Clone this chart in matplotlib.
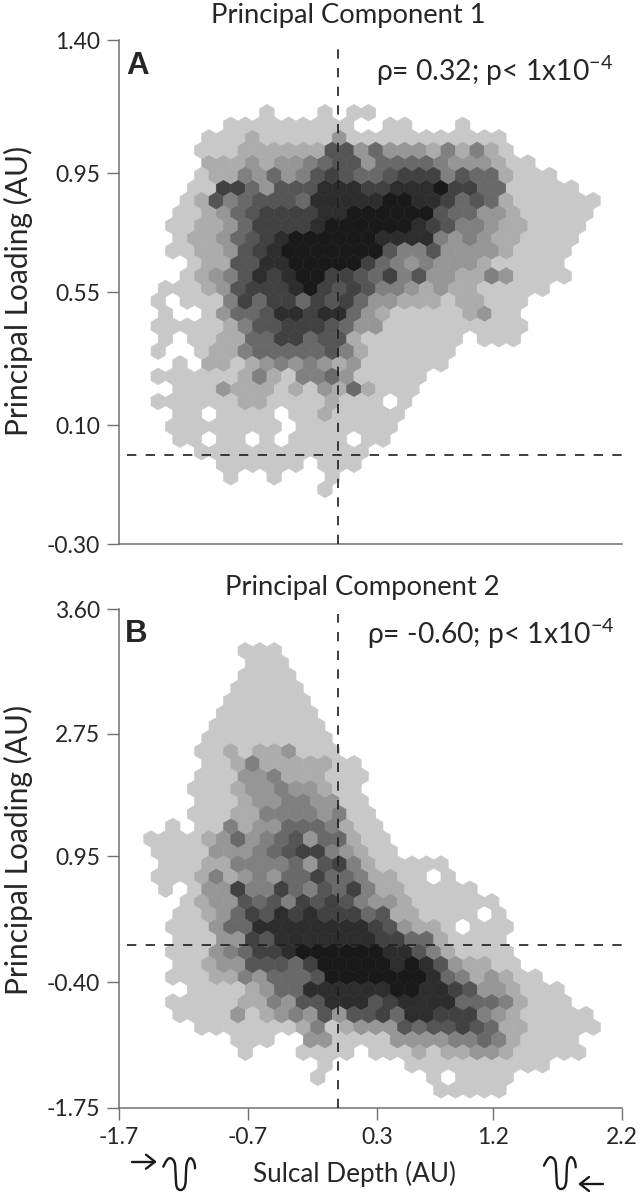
import numpy as np
import matplotlib
matplotlib.use("Agg")
import matplotlib.pyplot as plt
from matplotlib.colors import ListedColormap
from matplotlib.patches import PathPatch
from matplotlib.path import Path

plt.rcParams["font.family"] = ["Lato", "DejaVu Sans"]
plt.rcParams["mathtext.fontset"] = "custom"
plt.rcParams["mathtext.rm"] = "Lato"
plt.rcParams["mathtext.default"] = "regular"

# density class of every hexagon, one string per row from the top, blank = empty
levels_a = [
    "        1   1 11",
    "     111111111  11   1",
    "    111211111311111111111",
    "   1112222226635333242421",
    "    22232334566355554333211",
    "   1224353467655677746552111",
    "   117753666888778889775511111",
    "  12645666588888998875652111111",
    "  11235677778899999965533211111",
    " 11223577778999999876443221111",
    "  1223567899999988884343221111",
    " 1122367899999996446333321111",
    "   12266889999975434333211111",
    "  123468789977657463322431111",
    " 111236777897676443232211111",
    "1 111475775767533222122111",
    " 1  1355688788532111112311",
    "11111246677765331111111111",
    " 1 1122557756621111111 111",
    "1  122455555642111111",
    "  1 22123434323111111",
    "1111112421445311111",
    "  11132221213252111",
    "1111112211112111 1",
    "  11 1111 11211111",
    " 11111111 1111111",
    "  11 11 1 1111 11",
    "   111111111111",
    "     111111 111",
    "     1  1   1",
    "            1",
]
levels_b = [
    "       111",
    "       111",
    "       1111",
    "      11111",
    "      111111",
    "     1111111",
    "     11111111",
    "    111111111",
    "    1121223111",
    "    11242222211",
    "    111334222111",
    "   111233433211",
    "    111233443311",
    "   1112244443411",
    "  1 1142335554211",
    "11112353456355211",
    " 11113334567743211",
    " 11122444453674211111",
    " 1112423435575542211 1",
    " 1 13374475465742211111",
    "   1233656476764332111111",
    "  112357687877756221111 1",
    "  11135588888888763221 111",
    "  11133768888888775521111",
    "  111345778999999886421111",
    "  112336665799999898632211",
    "  11122435556999999985423211",
    "   11112355888888998876332111",
    "  1111122436688867888855542111",
    "  11113123436366758877743211111",
    "    1111111241233365667652211111",
    "      111  3311113333445421111",
    "       1   1111 111212233211111",
    "            1     1111111111",
    "            1       1 1111",
    "                    11111",
]
greys = ["#c8c8c8", "#acacac", "#969696", "#808080", "#696969",
         "#555555", "#414141", "#2d2d2d", "#191919"]

# first hexagon of the grid and grid pitch, data units
x0_a, y0_a, dy_a = -1.452, 1.1547, 0.04235
x0_b, y0_b, dy_b = -1.5078, 3.1514, 0.1345
dx = 0.1124

xticks = [-1.7, -0.7, 0.3, 1.2, 2.2]
yticks_a = [1.40, 0.95, 0.55, 0.10, -0.30]
ylabels_a = ["1.40", "0.95", "0.55", "0.10", "-0.30"]
# the 2.75 label sits where about 2.26 would be on the linear axis
yticks_b = [3.60, 2.26, 0.95, -0.40, -1.75]
ylabels_b = ["3.60", "2.75", "0.95", "-0.40", "-1.75"]

W, H = 644, 1199
TXT = "#262626"
AXC = "#707070"
cmap = ListedColormap(greys)


def make_ax(top, bottom):
    ax = fig.add_axes([119 / W, 1 - bottom / H, 503 / W, (bottom - top) / H])
    for s in ["top", "right"]:
        ax.spines[s].set_visible(False)
    for s in ["left", "bottom"]:
        ax.spines[s].set_color(AXC)
        ax.spines[s].set_linewidth(1.1)
    ax.patch.set_alpha(0)
    return ax


def draw_hexes(ax, rows, x0, y0, dy, last_even):
    xs, ys, cs = [], [], []
    for r, row in enumerate(rows):
        for j, ch in enumerate(row):
            if ch != " ":
                xs.append(x0 + dx * (j + 0.5 * (r % 2)))
                ys.append(y0 - dy * r)
                cs.append(int(ch))
    ymin = y0 - dy * last_even
    ax.hexbin(xs, ys, C=cs, reduce_C_function=np.max,
              gridsize=(32, last_even // 2),
              extent=(x0, x0 + 32 * dx, ymin, y0),
              cmap=cmap, vmin=0.5, vmax=9.5, linewidths=0.4, zorder=1)


def dashes(ax, top_frac):
    ax.axvline(0, ymax=top_frac, color="#1e1e1e", lw=1.2, ls=(0, (5.6, 5.6)), zorder=3)
    ax.axhline(0, xmin=0.016, color="#1e1e1e", lw=1.2, ls=(0, (5.6, 5.6)), zorder=3)


def ftext(x, y, s, **kw):
    fig.text(x / W, 1 - y / H, s, va="center", ha=kw.pop("ha", "center"), color=TXT, **kw)


def squiggle(dx_px, dy_px):
    # sulcus outline in pixels
    verts = [(163.3, 1166.7),
             (166, 1160.7), (168.3, 1157.3), (170.7, 1158.3),
             (174.3, 1159.3), (175.3, 1163.3), (175.3, 1168.3),
             (176, 1181.7), (176, 1186.7), (177.3, 1190), (180.3, 1190),
             (184, 1190), (185.3, 1186.7), (185.7, 1180.7),
             (186, 1173.3), (186, 1166.7), (186.7, 1164),
             (187.7, 1160), (189.3, 1157.7), (191, 1158.3),
             (193.3, 1159.3), (195, 1163.3), (195, 1168.3)]
    codes = [Path.MOVETO] + [Path.CURVE4] * 6 + [Path.LINETO] + [Path.CURVE4] * 15
    codes = codes[:len(verts)]
    pts = [((x + dx_px) / W, 1 - (y + dy_px) / H) for x, y in verts]
    fig.add_artist(PathPatch(Path(pts, codes), fill=False, ec="#1a1a1a", lw=1.7,
                             transform=fig.transFigure, capstyle="round"))


def arrow(x1, x2, y):
    head = 9 if x2 > x1 else -9
    for xs, ys in [((x1, x2), (y, y)),
                   ((x2 - head, x2, x2 - head), (y - 7, y, y + 7))]:
        fig.add_artist(plt.Line2D([x / W for x in xs], [1 - v / H for v in ys],
                                  color="#1a1a1a", lw=1.7, transform=fig.transFigure,
                                  solid_capstyle="round", solid_joinstyle="round"))


fig = plt.figure(figsize=(W / 100, H / 100), dpi=100)

ax1 = make_ax(40, 544)
draw_hexes(ax1, levels_a, x0_a, y0_a, dy_a, 30)
ax1.set_xlim(-1.7, 2.2)
ax1.set_ylim(-0.30, 1.40)
ax1.set_xticks([])
ax1.set_yticks(yticks_a)
ax1.set_yticklabels(ylabels_a)
dashes(ax1, 0.99)

ax2 = make_ax(609, 1108)
draw_hexes(ax2, levels_b, x0_b, y0_b, dy_b, 36)
ax2.set_xlim(-1.7, 2.2)
ax2.set_ylim(-1.75, 3.60)
ax2.set_xticks(xticks)
ax2.set_xticklabels(["-1.7", "-0.7", "0.3", "1.2", "2.2"])
ax2.set_yticks(yticks_b)
ax2.set_yticklabels(ylabels_b)
dashes(ax2, 0.99)

for ax in [ax1, ax2]:
    ax.tick_params(axis="y", length=8.6, width=1.0, color=AXC, labelsize=16.5,
                   labelcolor=TXT, pad=5)
    ax.tick_params(axis="x", length=8.6, width=1.0, color=AXC, labelsize=16.5,
                   labelcolor=TXT, pad=5)

ftext(348, 15, "Principal Component 1", fontsize=19.7)
ftext(362, 587, "Principal Component 2", fontsize=19.7)
ftext(18, 291, "Principal Loading (AU)", fontsize=21.5, rotation=90)
ftext(18, 850, "Principal Loading (AU)", fontsize=21.5, rotation=90)
ftext(354, 1174, "Sulcal Depth (AU)", fontsize=18.8)
ftext(126, 66, "A", fontsize=22.5, ha="left", fontweight="bold", family="Liberation Sans")
ftext(125, 634, "B", fontsize=22.5, ha="left", fontweight="bold", family="Liberation Sans")
ftext(376, 71, "ρ= 0.32; p< 1x10$^{-4}$", fontsize=20.3, ha="left")
ftext(367, 634, "ρ= -0.60; p< 1x10$^{-4}$", fontsize=20.3, ha="left")

arrow(132, 155, 1161.7)
squiggle(0, 0)
squiggle(-88 / 3 + 410, -1)
arrow(603, 580, 1184)

fig.savefig("out.png", dpi=100)
